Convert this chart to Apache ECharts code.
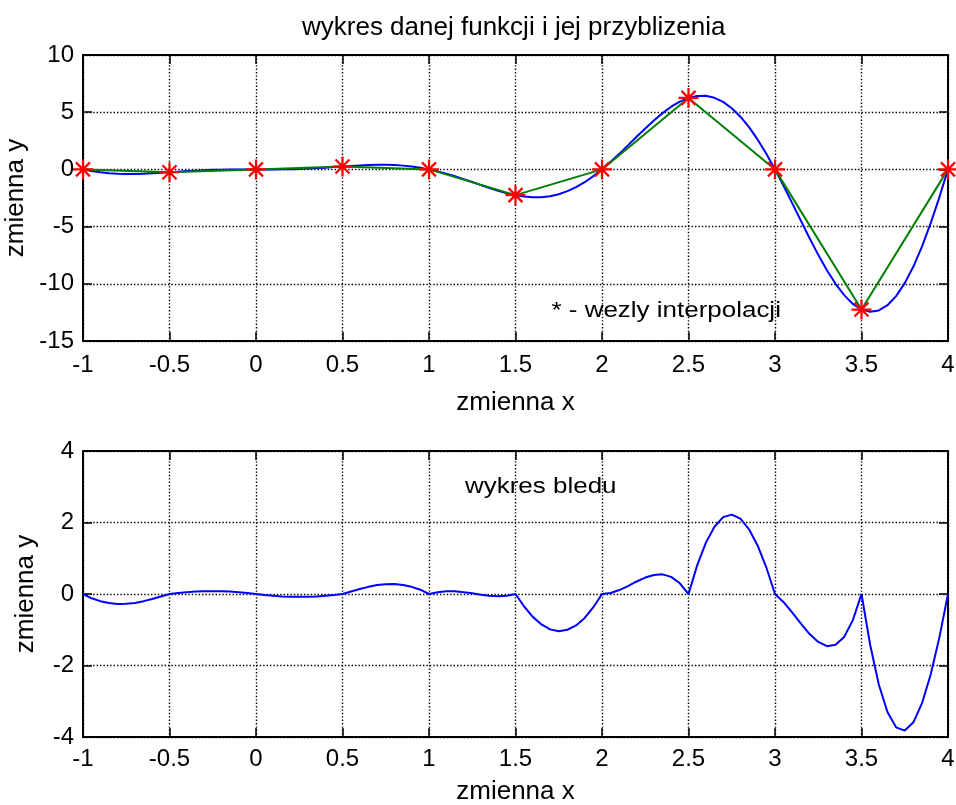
<!DOCTYPE html>
<html>
<head>
<meta charset="utf-8">
<script src="https://cdn.jsdelivr.net/npm/echarts@6/dist/echarts.min.js"></script>
<style>
html, body { margin: 0; padding: 0; background: #fff; }
#chart { width: 956px; height: 805px; }
</style>
</head>
<body>
<div id="chart"></div>
<script>
// sample points of the function on [-1, 4]
const xFine = [
  -1, -0.95, -0.9, -0.85, -0.8, -0.75, -0.7, -0.65, -0.6, -0.55,
  -0.5, -0.45, -0.4, -0.35, -0.3, -0.25, -0.2, -0.15, -0.1, -0.05,
  0, 0.05, 0.1, 0.15, 0.2, 0.25, 0.3, 0.35, 0.4, 0.45,
  0.5, 0.55, 0.6, 0.65, 0.7, 0.75, 0.8, 0.85, 0.9, 0.95,
  1, 1.05, 1.1, 1.15, 1.2, 1.25, 1.3, 1.35, 1.4, 1.45,
  1.5, 1.55, 1.6, 1.65, 1.7, 1.75, 1.8, 1.85, 1.9, 1.95,
  2, 2.05, 2.1, 2.15, 2.2, 2.25, 2.3, 2.35, 2.4, 2.45,
  2.5, 2.55, 2.6, 2.65, 2.7, 2.75, 2.8, 2.85, 2.9, 2.95,
  3, 3.05, 3.1, 3.15, 3.2, 3.25, 3.3, 3.35, 3.4, 3.45,
  3.5, 3.55, 3.6, 3.65, 3.7, 3.75, 3.8, 3.85, 3.9, 3.95,
  4
];

// function values (blue curve, upper plot)
const fValues = [
  0, -0.14, -0.25, -0.33, -0.38, -0.40, -0.40, -0.38, -0.34, -0.30,
  -0.25, -0.20, -0.15, -0.11, -0.07, -0.04, -0.02, -0.01, 0, 0,
  0, 0, 0, 0.01, 0.02, 0.04, 0.07, 0.11, 0.15, 0.20,
  0.25, 0.30, 0.34, 0.38, 0.40, 0.40, 0.38, 0.33, 0.25, 0.14,
  0, -0.17, -0.37, -0.60, -0.85, -1.10, -1.37, -1.62, -1.86, -2.08,
  -2.25, -2.37, -2.43, -2.43, -2.34, -2.17, -1.90, -1.55, -1.12, -0.59,
  0, 0.66, 1.36, 2.10, 2.85, 3.58, 4.28, 4.92, 5.48, 5.93,
  6.25, 6.42, 6.43, 6.26, 5.90, 5.35, 4.61, 3.69, 2.60, 1.36,
  0, -1.45, -2.97, -4.50, -6.02, -7.47, -8.81, -10.00, -10.99, -11.76,
  -12.25, -12.45, -12.33, -11.87, -11.08, -9.94, -8.49, -6.73, -4.70, -2.44,
  0
];

// approximation error (lower plot)
const errValues = [
  0, -0.12, -0.20, -0.25, -0.28, -0.27, -0.25, -0.20, -0.14, -0.07,
  0, 0.03, 0.05, 0.07, 0.08, 0.08, 0.08, 0.07, 0.05, 0.03,
  0, -0.03, -0.05, -0.07, -0.08, -0.08, -0.08, -0.07, -0.05, -0.03,
  0, 0.07, 0.14, 0.20, 0.25, 0.27, 0.28, 0.25, 0.20, 0.12,
  0, 0.05, 0.08, 0.08, 0.05, 0.02, -0.02, -0.05, -0.06, -0.05,
  0, -0.35, -0.64, -0.85, -0.99, -1.04, -1.00, -0.88, -0.67, -0.37,
  0, 0.03, 0.11, 0.22, 0.35, 0.46, 0.53, 0.55, 0.48, 0.30,
  0, 0.80, 1.43, 1.88, 2.15, 2.22, 2.11, 1.81, 1.35, 0.74,
  0, -0.23, -0.52, -0.83, -1.12, -1.34, -1.46, -1.42, -1.20, -0.73,
  0, -1.42, -2.53, -3.30, -3.73, -3.82, -3.59, -3.05, -2.25, -1.22,
  0
];

// interpolation nodes (green polyline + red stars)
const xNodes = [-1, -0.5, 0, 0.5, 1, 1.5, 2, 2.5, 3, 3.5, 4];
const yNodes = [0, -0.25, 0, 0.25, 0, -2.25, 0, 6.25, 0, -12.25, 0];

// axis ranges
const xRange = { min: -1, max: 4, interval: 0.5 };
const yRangeTop = { min: -15, max: 10, interval: 5 };
const yRangeBottom = { min: -4, max: 4, interval: 2 };

const FONT = '"Liberation Sans", Arial, sans-serif';
const zip = (xs, ys) => xs.map((x, i) => [x, ys[i]]);

const tick = { show: true, inside: true, length: 9, lineStyle: { color: '#000', width: 1.5 } };
const frame = { show: true, onZero: false, lineStyle: { color: '#000', width: 2 } };
const grid = { show: true, lineStyle: { color: '#000', width: 1.4, type: [1.4, 2] } };

function xMain(gi, labelMargin, nameGap) {
  return {
    type: 'value', gridIndex: gi, position: 'bottom',
    min: xRange.min, max: xRange.max, interval: xRange.interval,
    axisLine: frame, axisTick: tick, splitLine: grid,
    axisLabel: { color: '#000', fontSize: 24, fontFamily: FONT, margin: labelMargin },
    name: 'zmienna x', nameLocation: 'middle', nameGap: nameGap,
    nameTextStyle: { color: '#000', fontSize: 26, fontFamily: FONT }
  };
}
function xTop(gi) {
  return {
    type: 'value', gridIndex: gi, position: 'top',
    min: xRange.min, max: xRange.max, interval: xRange.interval,
    axisLine: frame, axisTick: tick, splitLine: { show: false },
    axisLabel: { show: false }
  };
}
function yMain(gi, r) {
  return {
    type: 'value', gridIndex: gi, position: 'left',
    min: r.min, max: r.max, interval: r.interval,
    axisLine: frame, axisTick: tick, splitLine: grid,
    axisLabel: { color: '#000', fontSize: 24, fontFamily: FONT, margin: 9 },
    name: 'zmienna y', nameLocation: 'middle', nameGap: 44,
    nameTextStyle: { color: '#000', fontSize: 26, fontFamily: FONT }
  };
}
function yRight(gi, r) {
  return {
    type: 'value', gridIndex: gi, position: 'right',
    min: r.min, max: r.max, interval: r.interval,
    axisLine: frame, axisTick: tick, splitLine: { show: false },
    axisLabel: { show: false }
  };
}

const starPath = 'path://M10,0L10,20M0,10L20,10M3,3L17,17M17,3L3,17';

const chart = echarts.init(document.getElementById('chart'), null, { renderer: 'canvas' });
chart.setOption({
  animation: false,
  backgroundColor: '#fff',
  grid: [
    { left: 83, top: 55, width: 865, height: 286, containLabel: false, outerBoundsMode: 'none' },
    { left: 83, top: 451, width: 865, height: 286, containLabel: false, outerBoundsMode: 'none' }
  ],
  xAxis: [xMain(0, 12, 49), xTop(0), xMain(1, 10, 42), xTop(1)],
  yAxis: [yMain(0, yRangeTop), yRight(0, yRangeTop), yMain(1, yRangeBottom), yRight(1, yRangeBottom)],
  graphic: {
    elements: [
      {
        type: 'text', x: 513.7, y: 28, silent: true,
        style: {
          text: 'wykres danej funkcji i jej przyblizenia',
          fontSize: 26, fontFamily: FONT, fill: '#000',
          textAlign: 'center', textVerticalAlign: 'middle', align: 'center', verticalAlign: 'middle'
        }
      },
      {
        type: 'text', x: 551.5, y: 310.5, scaleX: 1.18, silent: true, z: 10,
        style: {
          text: '* - wezly interpolacji',
          fontSize: 22, fontFamily: FONT, fill: '#000',
          textAlign: 'left', textVerticalAlign: 'middle', align: 'left', verticalAlign: 'middle'
        }
      },
      {
        type: 'text', x: 465, y: 486.5, scaleX: 1.18, silent: true, z: 10,
        style: {
          text: 'wykres bledu',
          fontSize: 22, fontFamily: FONT, fill: '#000',
          textAlign: 'left', textVerticalAlign: 'middle', align: 'left', verticalAlign: 'middle'
        }
      }
    ]
  },
  series: [
    {
      name: 'funkcja', type: 'line', xAxisIndex: 0, yAxisIndex: 0,
      data: zip(xFine, fValues), showSymbol: false, symbol: 'none',
      lineStyle: { color: '#0000ff', width: 2 }, z: 3
    },
    {
      name: 'przyblizenie', type: 'line', xAxisIndex: 0, yAxisIndex: 0,
      data: zip(xNodes, yNodes), showSymbol: false, symbol: 'none',
      lineStyle: { color: '#008000', width: 2 }, z: 4
    },
    {
      name: 'wezly', type: 'scatter', xAxisIndex: 0, yAxisIndex: 0,
      data: zip(xNodes, yNodes), symbol: starPath, symbolSize: 20,
      itemStyle: { color: 'none', borderColor: '#ff0000', borderWidth: 2.2, opacity: 1 },
      z: 5, clip: false
    },
    {
      name: 'blad', type: 'line', xAxisIndex: 2, yAxisIndex: 2,
      data: zip(xFine, errValues), showSymbol: false, symbol: 'none',
      lineStyle: { color: '#0000ff', width: 2 }, z: 3
    }
  ]
});
</script>
</body>
</html>
